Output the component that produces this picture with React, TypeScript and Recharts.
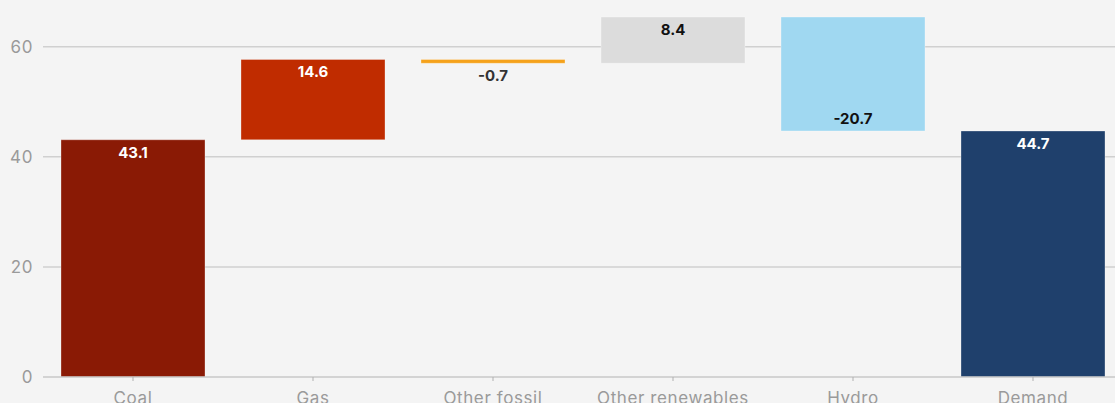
import { BarChart, Bar, XAxis, YAxis, CartesianGrid, Cell, LabelList } from "recharts";

// Waterfall of the change in generation, ending in demand
const categories = ["Coal", "Gas", "Other fossil", "Other renewables", "Hydro", "Demand"];
const changes = [43.1, 14.6, -0.7, 8.4, -20.7, 44.7];
const isTotal = [true, false, false, false, false, true];
const colors = ["#8A1A05", "#C02C00", "#F5A21B", "#DCDCDC", "#A0D8F1", "#1F406C"];
const labelColors = ["#ffffff", "#ffffff", "#333333", "#111111", "#111111", "#ffffff"];
const yTicks = [0, 20, 40, 60];

const FONT = "Inter, 'Noto Sans', sans-serif";

let running = 0;
const data = categories.map((name, i) => {
  const change = changes[i];
  let base: number;
  if (isTotal[i]) {
    base = 0;
    running = change;
  } else {
    base = change >= 0 ? running : running + change;
    running += change;
  }
  return { name, base, size: Math.abs(change), change };
});

function ValueLabel(props: any) {
  const { x, y, width, height, index } = props;
  const change = changes[index];
  const cx = x + width / 2;
  let ty: number;
  if (change >= 0) ty = y + 18;
  else if (height < 12) ty = y + height + 18;
  else ty = y + height - 7;
  return (
    <text
      x={cx}
      y={ty}
      textAnchor="middle"
      fill={labelColors[index]}
      fontFamily={FONT}
      fontSize={15}
      fontWeight={700}
    >
      {change.toFixed(1)}
    </text>
  );
}

export default function App() {
  return (
    <div
      style={{
        position: "absolute",
        left: 0,
        top: 0,
        width: 1115,
        height: 403,
        overflow: "hidden",
        background: "#F4F4F4",
      }}
    >
      <BarChart
        width={1123}
        height={430}
        data={data}
        margin={{ top: 0, right: 0, bottom: 0, left: 0 }}
        barSize={144}
      >
        <CartesianGrid
          stroke="#D0D0D0"
          strokeWidth={1.5}
          vertical={false}
          horizontalValues={[20, 40, 60]}
        />
        <XAxis
          dataKey="name"
          height={53}
          axisLine={{ stroke: "#C8C8C8", strokeWidth: 1.5 }}
          tickLine={{ stroke: "#B0B0B0" }}
          tickSize={4}
          tickMargin={11}
          tick={{ fill: "#9A9A9A", fontSize: 17, fontFamily: FONT, letterSpacing: 0.6 }}
          interval={0}
        />
        <YAxis
          width={43}
          domain={[0, 68.5]}
          ticks={yTicks}
          axisLine={false}
          tickLine={false}
          tickMargin={4}
          tick={{ fill: "#9A9A9A", fontSize: 17, fontFamily: FONT, letterSpacing: 0.6 }}
        />
        <Bar dataKey="base" stackId="w" fill="transparent" isAnimationActive={false} />
        <Bar
          dataKey="size"
          stackId="w"
          isAnimationActive={false}
          stroke="rgba(255,255,255,0.3)"
          strokeWidth={1}
        >
          {data.map((d, i) => (
            <Cell key={d.name} fill={colors[i]} />
          ))}
          <LabelList dataKey="change" content={ValueLabel} />
        </Bar>
      </BarChart>
    </div>
  );
}
